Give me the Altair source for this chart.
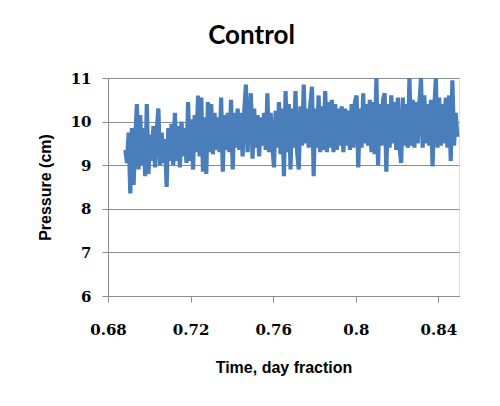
import altair as alt
import pandas as pd

# Uniform sampling grid of the recorded time series
T_START = 0.6884
T_STEP = 0.0008

PRESSURE = [
    9.35, 9.05, 9.75, 8.35, 9.85, 8.55, 9.6, 10.4, 8.9, 10.15,
    9.0, 9.85, 8.75, 10.4, 8.8, 9.7, 9.1, 9.9, 8.95, 9.8,
    10.3, 9.0, 9.75, 9.05, 9.6, 8.5, 9.85, 9.1, 9.95, 9.0,
    10.2, 9.1, 9.9, 8.95, 10.0, 9.2, 9.85, 9.05, 10.45, 9.1,
    10.05, 8.9, 10.15, 9.3, 10.6, 9.2, 10.55, 8.85, 10.1, 8.8,
    10.45, 9.3, 10.4, 9.25, 10.2, 9.35, 10.1, 9.3, 10.55, 8.85,
    10.15, 9.35, 10.2, 9.3, 10.5, 8.9, 10.2, 9.4, 10.3, 9.35,
    10.2, 9.2, 10.25, 10.85, 9.3, 10.2, 10.65, 9.15, 10.3, 9.4,
    10.15, 9.2, 10.1, 9.45, 10.2, 9.35, 10.65, 9.3, 10.2, 9.45,
    8.95, 10.25, 9.4, 10.45, 9.25, 10.3, 8.75, 10.7, 9.3, 10.4,
    8.9, 10.3, 9.4, 10.7, 9.3, 8.9, 10.35, 9.45, 10.85, 9.5,
    10.3, 9.4, 10.4, 10.8, 8.75, 10.3, 9.4, 10.6, 9.3, 10.35,
    9.35, 10.7, 9.3, 10.45, 9.4, 10.5, 9.3, 10.4, 9.35, 10.3,
    9.45, 10.35, 9.3, 10.3, 9.45, 10.25, 9.35, 10.4, 9.4, 10.45,
    10.6, 8.95, 10.3, 9.4, 10.65, 9.5, 10.4, 9.45, 10.5, 9.3,
    10.45, 9.25, 11.0, 9.0, 10.4, 9.45, 10.5, 10.65, 8.85, 10.4,
    9.4, 10.6, 9.5, 10.45, 9.35, 10.55, 9.4, 9.05, 10.55, 9.45,
    10.4, 9.4, 11.0, 9.45, 10.5, 9.4, 10.45, 9.5, 10.4, 11.0,
    9.4, 10.6, 9.5, 10.4, 9.45, 10.5, 8.97, 10.3, 11.0, 9.4,
    10.55, 9.45, 10.4, 9.5, 10.55, 9.4, 10.6, 9.1, 10.95, 9.45,
    10.2, 9.65,
]

X_TICKS = [0.68, 0.72, 0.76, 0.8, 0.84]
Y_TICKS = [6, 7, 8, 9, 10, 11]

df = pd.DataFrame({
    "t": [T_START + i * T_STEP for i in range(len(PRESSURE))],
    "p": PRESSURE,
})

GRID = "#8c8c8c"

chart = alt.Chart(df).mark_line(color="#4a7ebb", strokeWidth=4.2, strokeJoin="bevel").encode(
    x=alt.X("t:Q", scale=alt.Scale(domain=[0.68, 0.85], nice=False, zero=False),
            axis=alt.Axis(values=X_TICKS, title="Time, day fraction", grid=False,
                          labelExpr="datum.value == 0.8 ? '0.8' : format(datum.value, '.2f')",
                          labelFlush=False, labelOverlap=False,
                          domainColor=GRID, tickColor=GRID, tickSize=6,
                          labelPadding=20, titlePadding=22,
                          labelFont="DejaVu Serif", labelFontWeight="bold", labelFontSize=15,
                          labelColor="#000000",
                          titleFont="Liberation Sans", titleFontWeight="bold", titleFontSize=16,
                          titleColor="#000000")),
    y=alt.Y("p:Q", scale=alt.Scale(domain=[6, 11], nice=False, zero=False),
            axis=alt.Axis(values=Y_TICKS, title="Pressure (cm)", grid=True, gridColor=GRID,
                          labelFlush=False, labelOverlap=False,
                          gridWidth=1, domainColor=GRID, tickColor=GRID, tickSize=6,
                          labelPadding=11, titlePadding=17,
                          labelFont="DejaVu Serif", labelFontWeight="bold", labelFontSize=15,
                          labelColor="#000000",
                          titleFont="Liberation Sans", titleFontWeight="bold", titleFontSize=16,
                          titleColor="#000000")),
).properties(
    width=351,
    height=218,
    padding={"left": 100, "top": 70, "right": 30, "bottom": 90},
    autosize=alt.AutoSizeParams(type="none"),
    title=alt.TitleParams("Control", font="Lato", fontSize=26, fontWeight="bold",
                          color="#000000", anchor="middle", offset=1, dx=-32,
                          baseline="alphabetic"),
).configure_view(strokeWidth=0).configure(background="#ffffff")

chart.save("out.html", embed_options={"renderer": "svg", "actions": False})
